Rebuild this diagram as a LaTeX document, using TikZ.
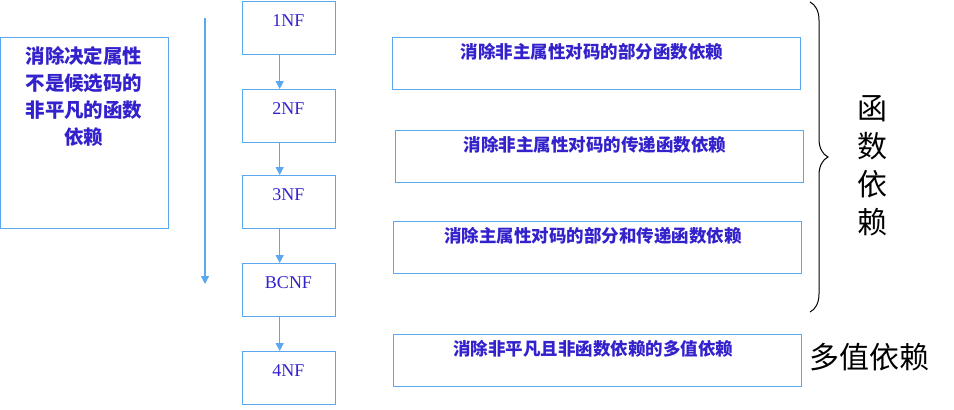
\documentclass[tikz,border=0pt]{standalone}
\usepackage{fontspec}
\setmainfont{Liberation Serif}
\newfontfamily\cjk{Noto Sans CJK SC}
\usetikzlibrary{arrows.meta,decorations.pathreplacing}
\definecolor{bx}{HTML}{5AA8F0}
\definecolor{tx}{HTML}{3322CC}
\begin{document}
\begin{tikzpicture}[x=1pt,y=-1pt,
  box/.style={draw=bx,line width=1.4pt,inner sep=0pt},
  arr/.style={draw=bx,line width=1.2pt,-{Triangle[width=8pt,length=8pt]}},
  lab/.style={text=tx,font=\fontsize{18}{18}\selectfont},
  clab/.style={text=tx,font=\cjk\bfseries\fontsize{17.5}{25}\selectfont},
  llab/.style={text=tx,font=\cjk\bfseries\fontsize{19.5}{27}\selectfont}]
\useasboundingbox (0,0) rectangle (954,410);
% left box
\node[box,minimum width=168pt,minimum height=191pt,anchor=north west] (L) at (0,37) {};
\node[llab,anchor=north,align=center] (Lt) at (84,43) {消除决定属性\\不是候选码的\\非平凡的函数\\依赖};
% long arrow
\coordinate (a1) at (205,18);
\coordinate (a2) at (205,284);
\draw[arr] (a1) -- (a2);
% NF boxes
\foreach \n/\t/\y in {n1/1NF/1,n2/2NF/89,n3/3NF/175,n4/BCNF/263,n5/4NF/351}{
  \node[box,minimum width=93pt,minimum height=53pt,anchor=north west] (\n) at (242,\y) {};
  \node[lab,anchor=north] at (288.5,\y+10) {\t};
}
\foreach \a/\b in {n1/n2,n2/n3,n3/n4,n4/n5}{
  \draw[arr] ([xshift=-9.5pt]\a.south) -- ([xshift=-9.5pt]\b.north);
}
% right boxes
\foreach \n/\x/\y/\t in {r1/392/37/消除非主属性对码的部分函数依赖,r2/395/130/消除非主属性对码的传递函数依赖,r3/393/221/消除主属性对码的部分和传递函数依赖,r4/393/334/消除非平凡且非函数依赖的多值依赖}{
  \node[box,minimum width=408pt,minimum height=52pt,anchor=north west] (\n) at (\x,\y) {};
  \node[clab,anchor=north] at (\x+200,\y+3) {\t};
}
% brace
\coordinate (b1) at (810,2);
\coordinate (b2) at (810,312);
\draw[line width=1pt,decorate,decoration={brace,amplitude=18pt}] (b1) -- (b2);
\node[font=\cjk\fontsize{30}{38}\selectfont,align=center,anchor=north] (fd) at (872,92) {函\\数\\依\\赖};
\node[font=\cjk\fontsize{30}{30}\selectfont] (mv) at (869,357) {多值依赖};
\end{tikzpicture}
\end{document}
